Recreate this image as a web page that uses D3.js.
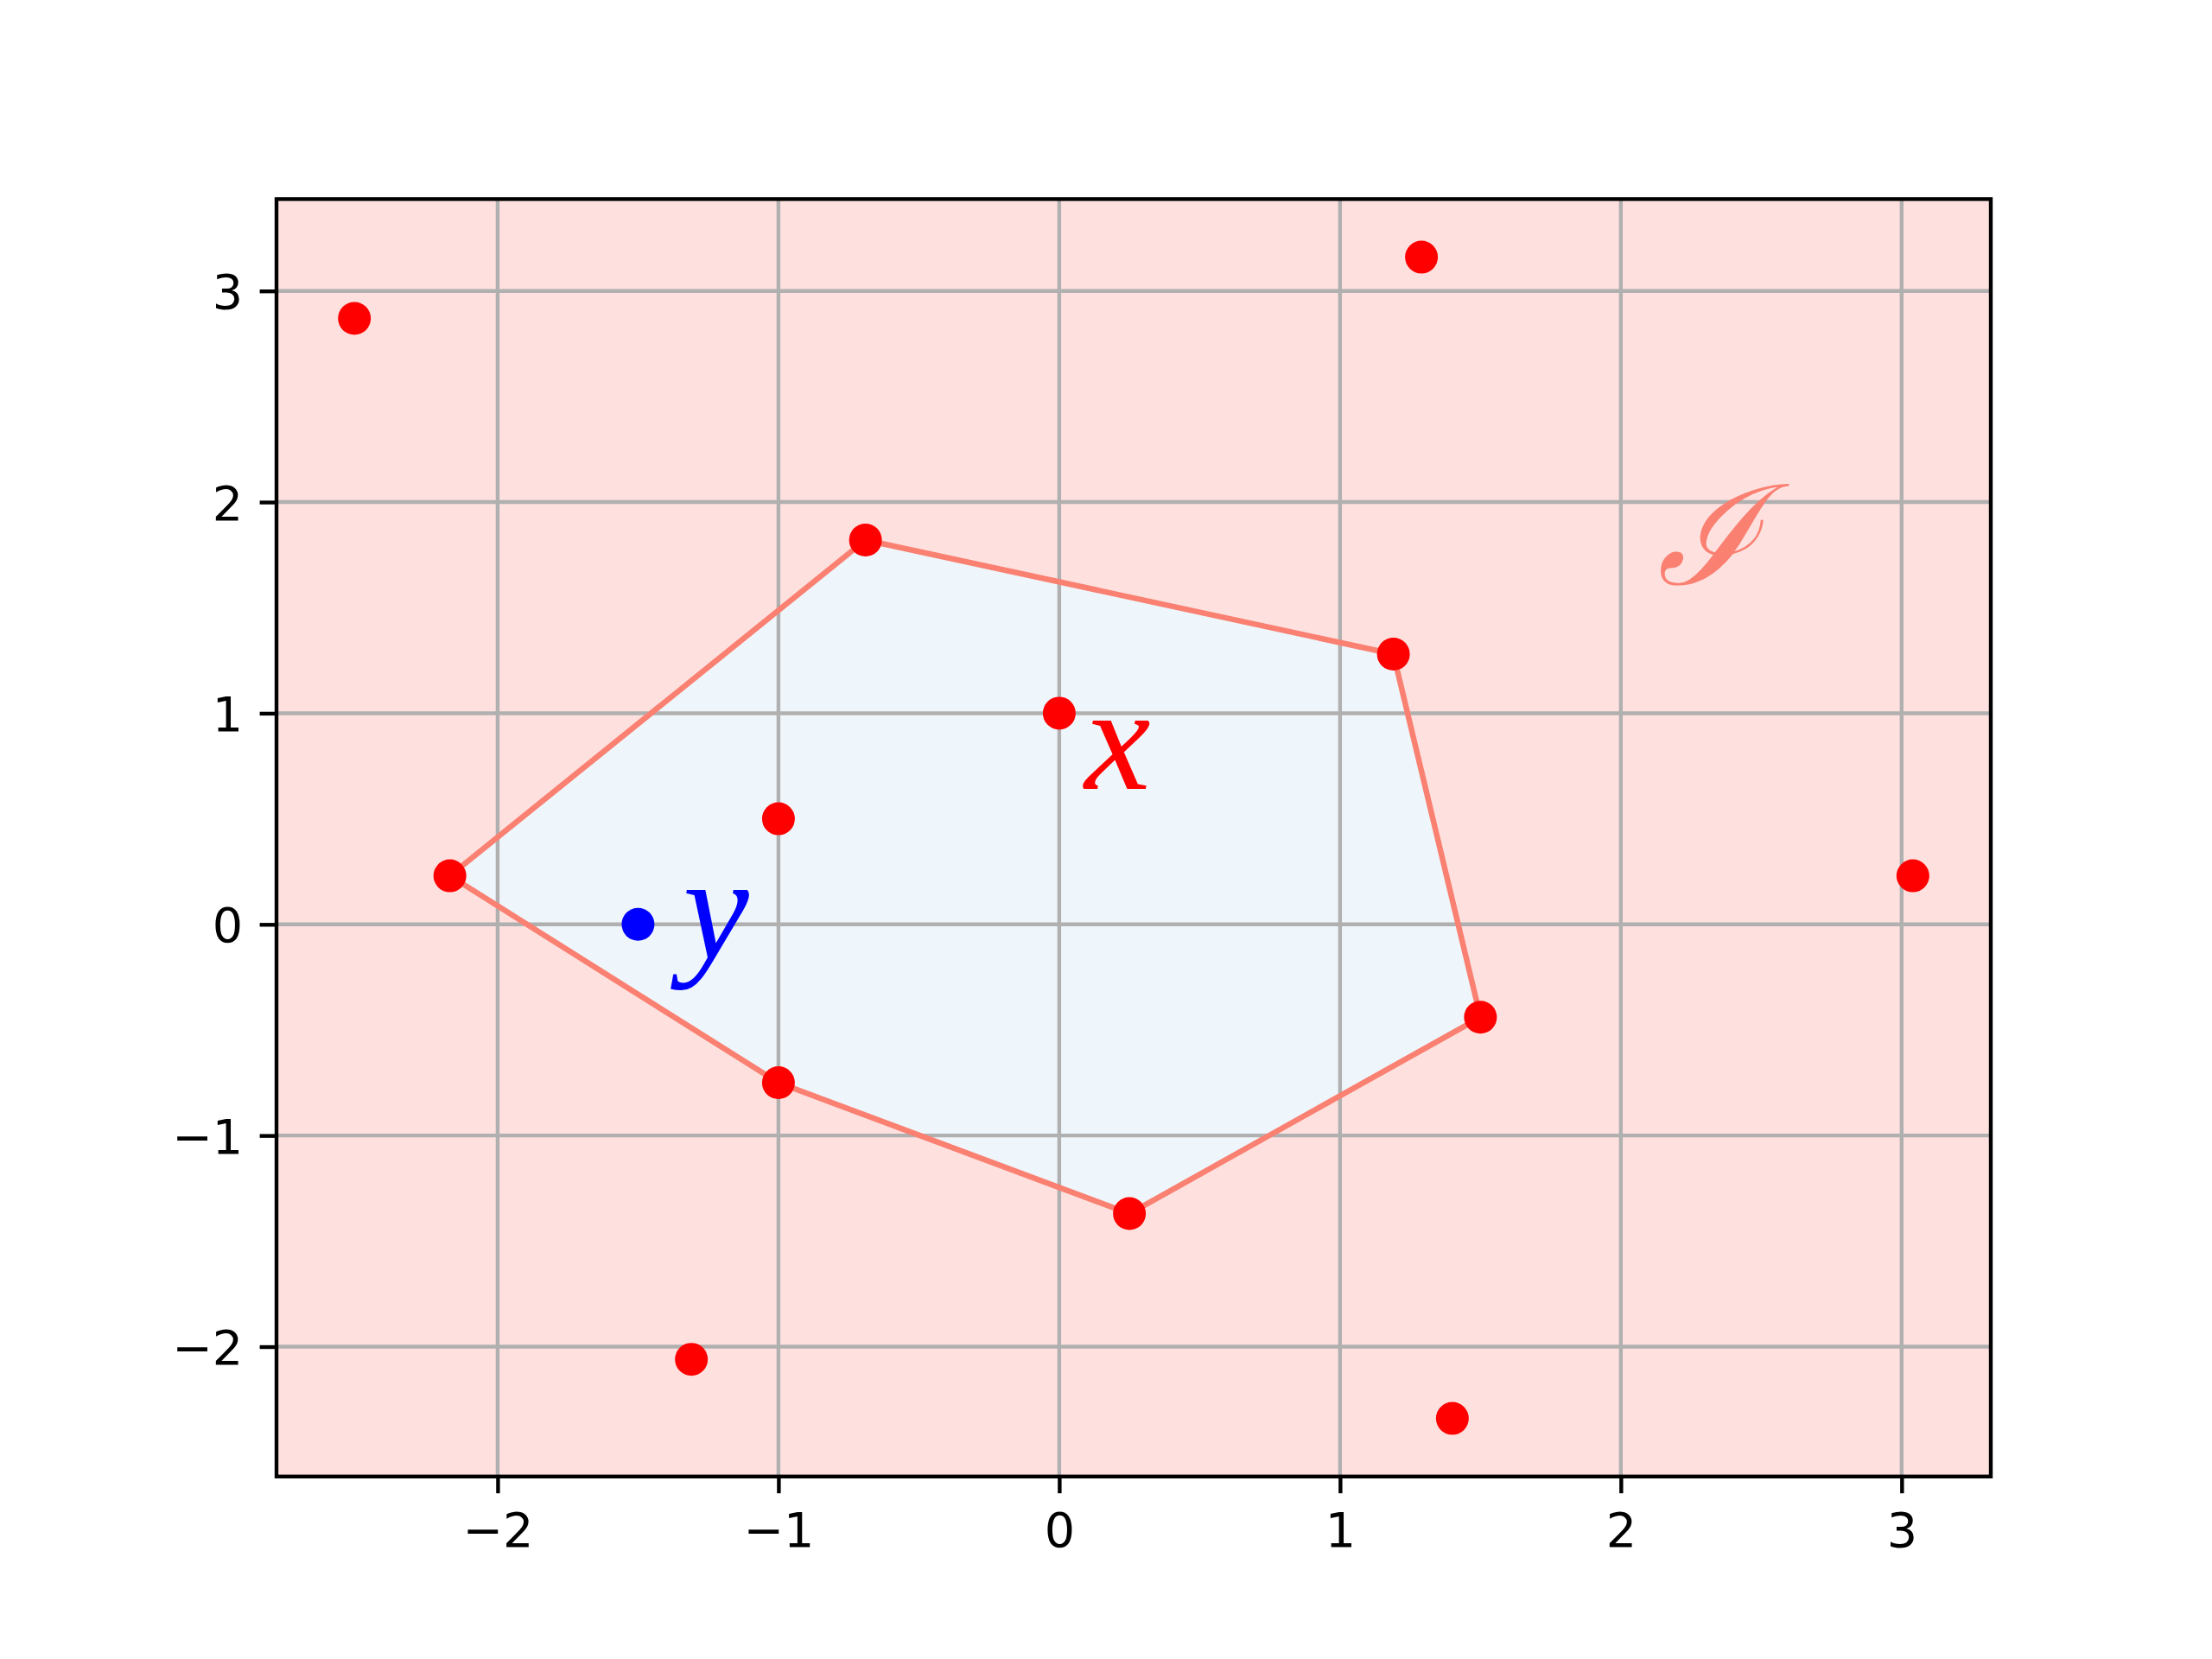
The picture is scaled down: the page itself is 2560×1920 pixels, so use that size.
<!DOCTYPE html>
<html>
<head>
<meta charset="utf-8">
<script src="https://cdn.jsdelivr.net/npm/d3@7"></script>
<style>
  body { margin: 0; background: #fff; }
  .tick text { font-family: "DejaVu Sans", sans-serif; font-size: 55.6px; fill: #000; }
  .math { font-family: "Liberation Serif", "DejaVu Serif", serif; font-style: italic; }
  .cal { font-family: "DejaVu Serif", serif; font-style: italic; }
</style>
</head>
<body>
<div id="chart"></div>
<script>
// data
var hullPoints = [[-0.69, 1.82], [1.19, 1.28], [1.50, -0.44], [0.25, -1.37], [-1.00, -0.75], [-2.17, 0.23]];
var innerPoints = [[0, 1], [-1, 0.5]];
var outerPoints = [[-2.51, 2.87], [1.29, 3.16], [3.04, 0.23], [-1.31, -2.06], [1.40, -2.34]];
var queryPoint = [[-1.5, 0]];
var xTicks = [-2, -1, 0, 1, 2, 3];
var yTicks = [-2, -1, 0, 1, 2, 3];
var labels = [
    {text: "x", x: 0.09, y: 0.64, color: "#ff0000", cls: "math", size: 172},
    {text: "y", x: -1.34, y: -0.16, color: "#0000ff", cls: "math", size: 172},
    {text: "\u2110", x: 2.13, y: 1.61, color: "#fa8072", cls: "cal", size: 160}
];

var svgWidth = 2560;
var svgHeight = 1920;
var margin = {top: 230.4, right: 256, bottom: 211.2, left: 320};
var width = svgWidth - margin.left - margin.right;
var height = svgHeight - margin.top - margin.bottom;

var svg = d3.select("#chart")
    .append("svg")
    .attr("width", svgWidth)
    .attr("height", svgHeight);

var chartGroup = svg.append("g")
    .attr("transform", `translate(${margin.left}, ${margin.top})`);

var allPoints = hullPoints.concat(innerPoints, outerPoints, queryPoint);
var xMin = d3.min(allPoints, d => d[0]), xMax = d3.max(allPoints, d => d[0]);
var yMin = d3.min(allPoints, d => d[1]), yMax = d3.max(allPoints, d => d[1]);
var xPad = (xMax - xMin) * 0.05, yPad = (yMax - yMin) * 0.05;

var xScale = d3.scaleLinear().domain([xMin - xPad, xMax + xPad]).range([0, width]);
var yScale = d3.scaleLinear().domain([yMin - yPad, yMax + yPad]).range([height, 0]);

// background
chartGroup.append("rect")
    .attr("width", width)
    .attr("height", height)
    .attr("fill", "#fee1df");

// hull fill
var line = d3.line().x(d => xScale(d[0])).y(d => yScale(d[1]));
chartGroup.append("path")
    .attr("d", line(hullPoints) + "Z")
    .attr("fill", "#eef6fb");

// grid
chartGroup.append("g").selectAll("line")
    .data(xTicks)
    .enter()
    .append("line")
    .attr("x1", d => xScale(d)).attr("x2", d => xScale(d))
    .attr("y1", 0).attr("y2", height)
    .attr("stroke", "#b0b0b0").attr("stroke-width", 4.4);
chartGroup.append("g").selectAll("line")
    .data(yTicks)
    .enter()
    .append("line")
    .attr("y1", d => yScale(d)).attr("y2", d => yScale(d))
    .attr("x1", 0).attr("x2", width)
    .attr("stroke", "#b0b0b0").attr("stroke-width", 4.4);

// hull edge
chartGroup.append("path")
    .attr("d", line(hullPoints) + "Z")
    .attr("fill", "none")
    .attr("stroke", "#fa8072")
    .attr("stroke-width", 6.5)
    .attr("stroke-linejoin", "round");

// points
chartGroup.append("g").selectAll("circle")
    .data(hullPoints.concat(innerPoints, outerPoints))
    .enter()
    .append("circle")
    .attr("cx", d => xScale(d[0]))
    .attr("cy", d => yScale(d[1]))
    .attr("r", 19)
    .attr("fill", "#ff0000");
chartGroup.append("g").selectAll("circle")
    .data(queryPoint)
    .enter()
    .append("circle")
    .attr("cx", d => xScale(d[0]))
    .attr("cy", d => yScale(d[1]))
    .attr("r", 19)
    .attr("fill", "#0000ff");

// labels
chartGroup.append("g").selectAll("text")
    .data(labels)
    .enter()
    .append("text")
    .attr("class", d => d.cls)
    .attr("x", d => xScale(d.x))
    .attr("y", d => yScale(d.y))
    .attr("font-size", d => d.size)
    .attr("fill", d => d.color)
    .text(d => d.text);

// axes
var fmt = d => d < 0 ? "\u2212" + Math.abs(d) : "" + d;
var bottomAxis = d3.axisBottom(xScale).tickValues(xTicks).tickFormat(fmt).tickSize(19.4).tickPadding(19.4);
var leftAxis = d3.axisLeft(yScale).tickValues(yTicks).tickFormat(fmt).tickSize(19.4).tickPadding(19.4);

var xAxisG = chartGroup.append("g")
    .attr("transform", `translate(0, ${height})`)
    .call(bottomAxis);
var yAxisG = chartGroup.append("g")
    .call(leftAxis);
[xAxisG, yAxisG].forEach(function(g) {
    g.select(".domain").remove();
    g.selectAll(".tick line").attr("stroke", "#000").attr("stroke-width", 4.4);
});
xAxisG.selectAll(".tick text").attr("dy", "0.76em");
yAxisG.selectAll(".tick text").attr("dy", "0.36em");

// frame
chartGroup.append("rect")
    .attr("width", width)
    .attr("height", height)
    .attr("fill", "none")
    .attr("stroke", "#000")
    .attr("stroke-width", 4.4);
</script>
</body>
</html>
